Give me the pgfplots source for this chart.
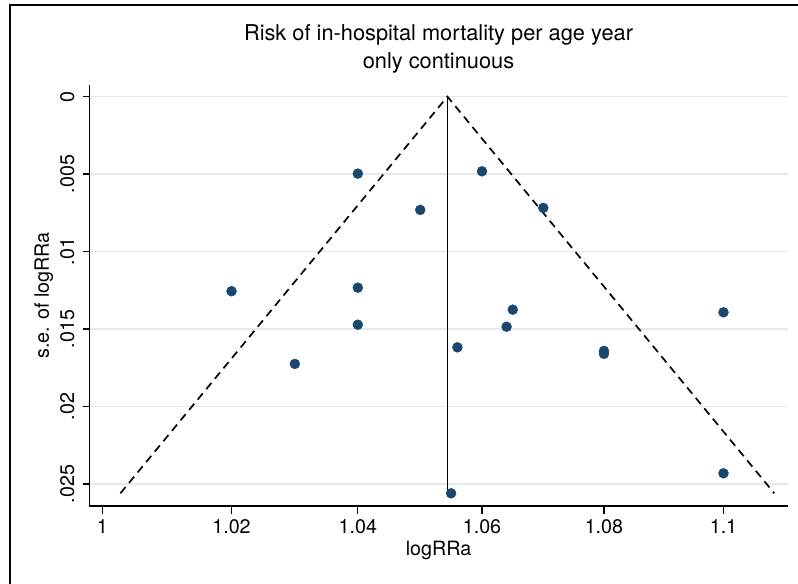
\documentclass[border=0pt]{standalone}
\usepackage{pgfplots}
\pgfplotsset{compat=1.18}
\usepackage{fontspec}
\setmainfont{TeX Gyre Heros}

\definecolor{stnavy}{RGB}{26,71,111}
\definecolor{stgrid}{RGB}{226,234,238}

\begin{document}
\begin{tikzpicture}[x=1bp,y=1bp]
\path[use as bounding box] (0,0) rectangle (798,584);
% outer frame (left and top edges visible)
\draw[line width=1.6bp] (10,0) -- (10,579) -- (798,579);

\begin{axis}[
    at={(89.3bp,78bp)}, anchor=south west,
    scale only axis,
    width=698.4bp, height=421bp,
    xmode=log,
    xmin=0.998, xmax=1.1109,
    ymin=-0.00075, ymax=0.02642,
    y dir=reverse,
    scaled y ticks=false,
    axis x line*=bottom, axis y line*=left,
    axis line style={line width=1.2bp, -},
    tick align=outside,
    major tick length=7.5bp,
    tick style={line width=1.2bp, black},
    xtick={1,1.02,1.04,1.06,1.08,1.1},
    xticklabels={1,1.02,1.04,1.06,1.08,1.1},
    ytick={0,0.005,0.01,0.015,0.02,0.025},
    yticklabels={0,.005,.01,.015,.02,.025},
    minor tick num=0,
    log ticks with fixed point,
    ymajorgrids, xmajorgrids=false,
    major grid style={stgrid, line width=1.2bp},
    ticklabel style={font=\fontsize{19.7bp}{23bp}\selectfont, inner sep=0pt},
    xticklabel shift=6bp,
    yticklabel style={rotate=90, anchor=south},
    yticklabel shift=8bp,
    xlabel={logRRa},
    ylabel={s.e. of logRRa},
    label style={font=\fontsize{19.7bp}{23bp}\selectfont, inner sep=0pt},
    xlabel style={at={(axis description cs:0.5,-0.1164)}, anchor=base},
    ylabel style={at={(axis description cs:-0.0515,0.5)}, anchor=south, rotate=0},
    title={Risk of in-hospital mortality per age year\\only continuous},
    title style={font=\fontsize{21.8bp}{28bp}\selectfont, align=center,
        inner sep=0pt, at={(axis description cs:0.5,1.0133)}, anchor=south},
]
\addplot[only marks, mark=*, mark size=5bp, color=stnavy, fill=stnavy] coordinates {
    (1.02,0.01256) (1.04,0.00497) (1.05,0.00731) (1.04,0.01233)
    (1.04,0.01472) (1.03,0.01725) (1.055,0.0256) (1.06,0.00482)
    (1.07,0.00718) (1.065,0.01375) (1.064,0.01485) (1.056,0.01618)
    (1.08,0.01641) (1.08,0.0166) (1.1,0.01392) (1.1,0.02431)
};
% pseudo 95% limits
\addplot[black, line width=1.7bp, dash pattern=on 8bp off 5.5bp] coordinates {
    (1.002777,0.0256) (1.05438,0) (1.10863,0.0256)
};
\addplot[black, line width=1.7bp] coordinates {(1.05438,0) (1.05438,0.0256)};
\end{axis}
\end{tikzpicture}
\end{document}
